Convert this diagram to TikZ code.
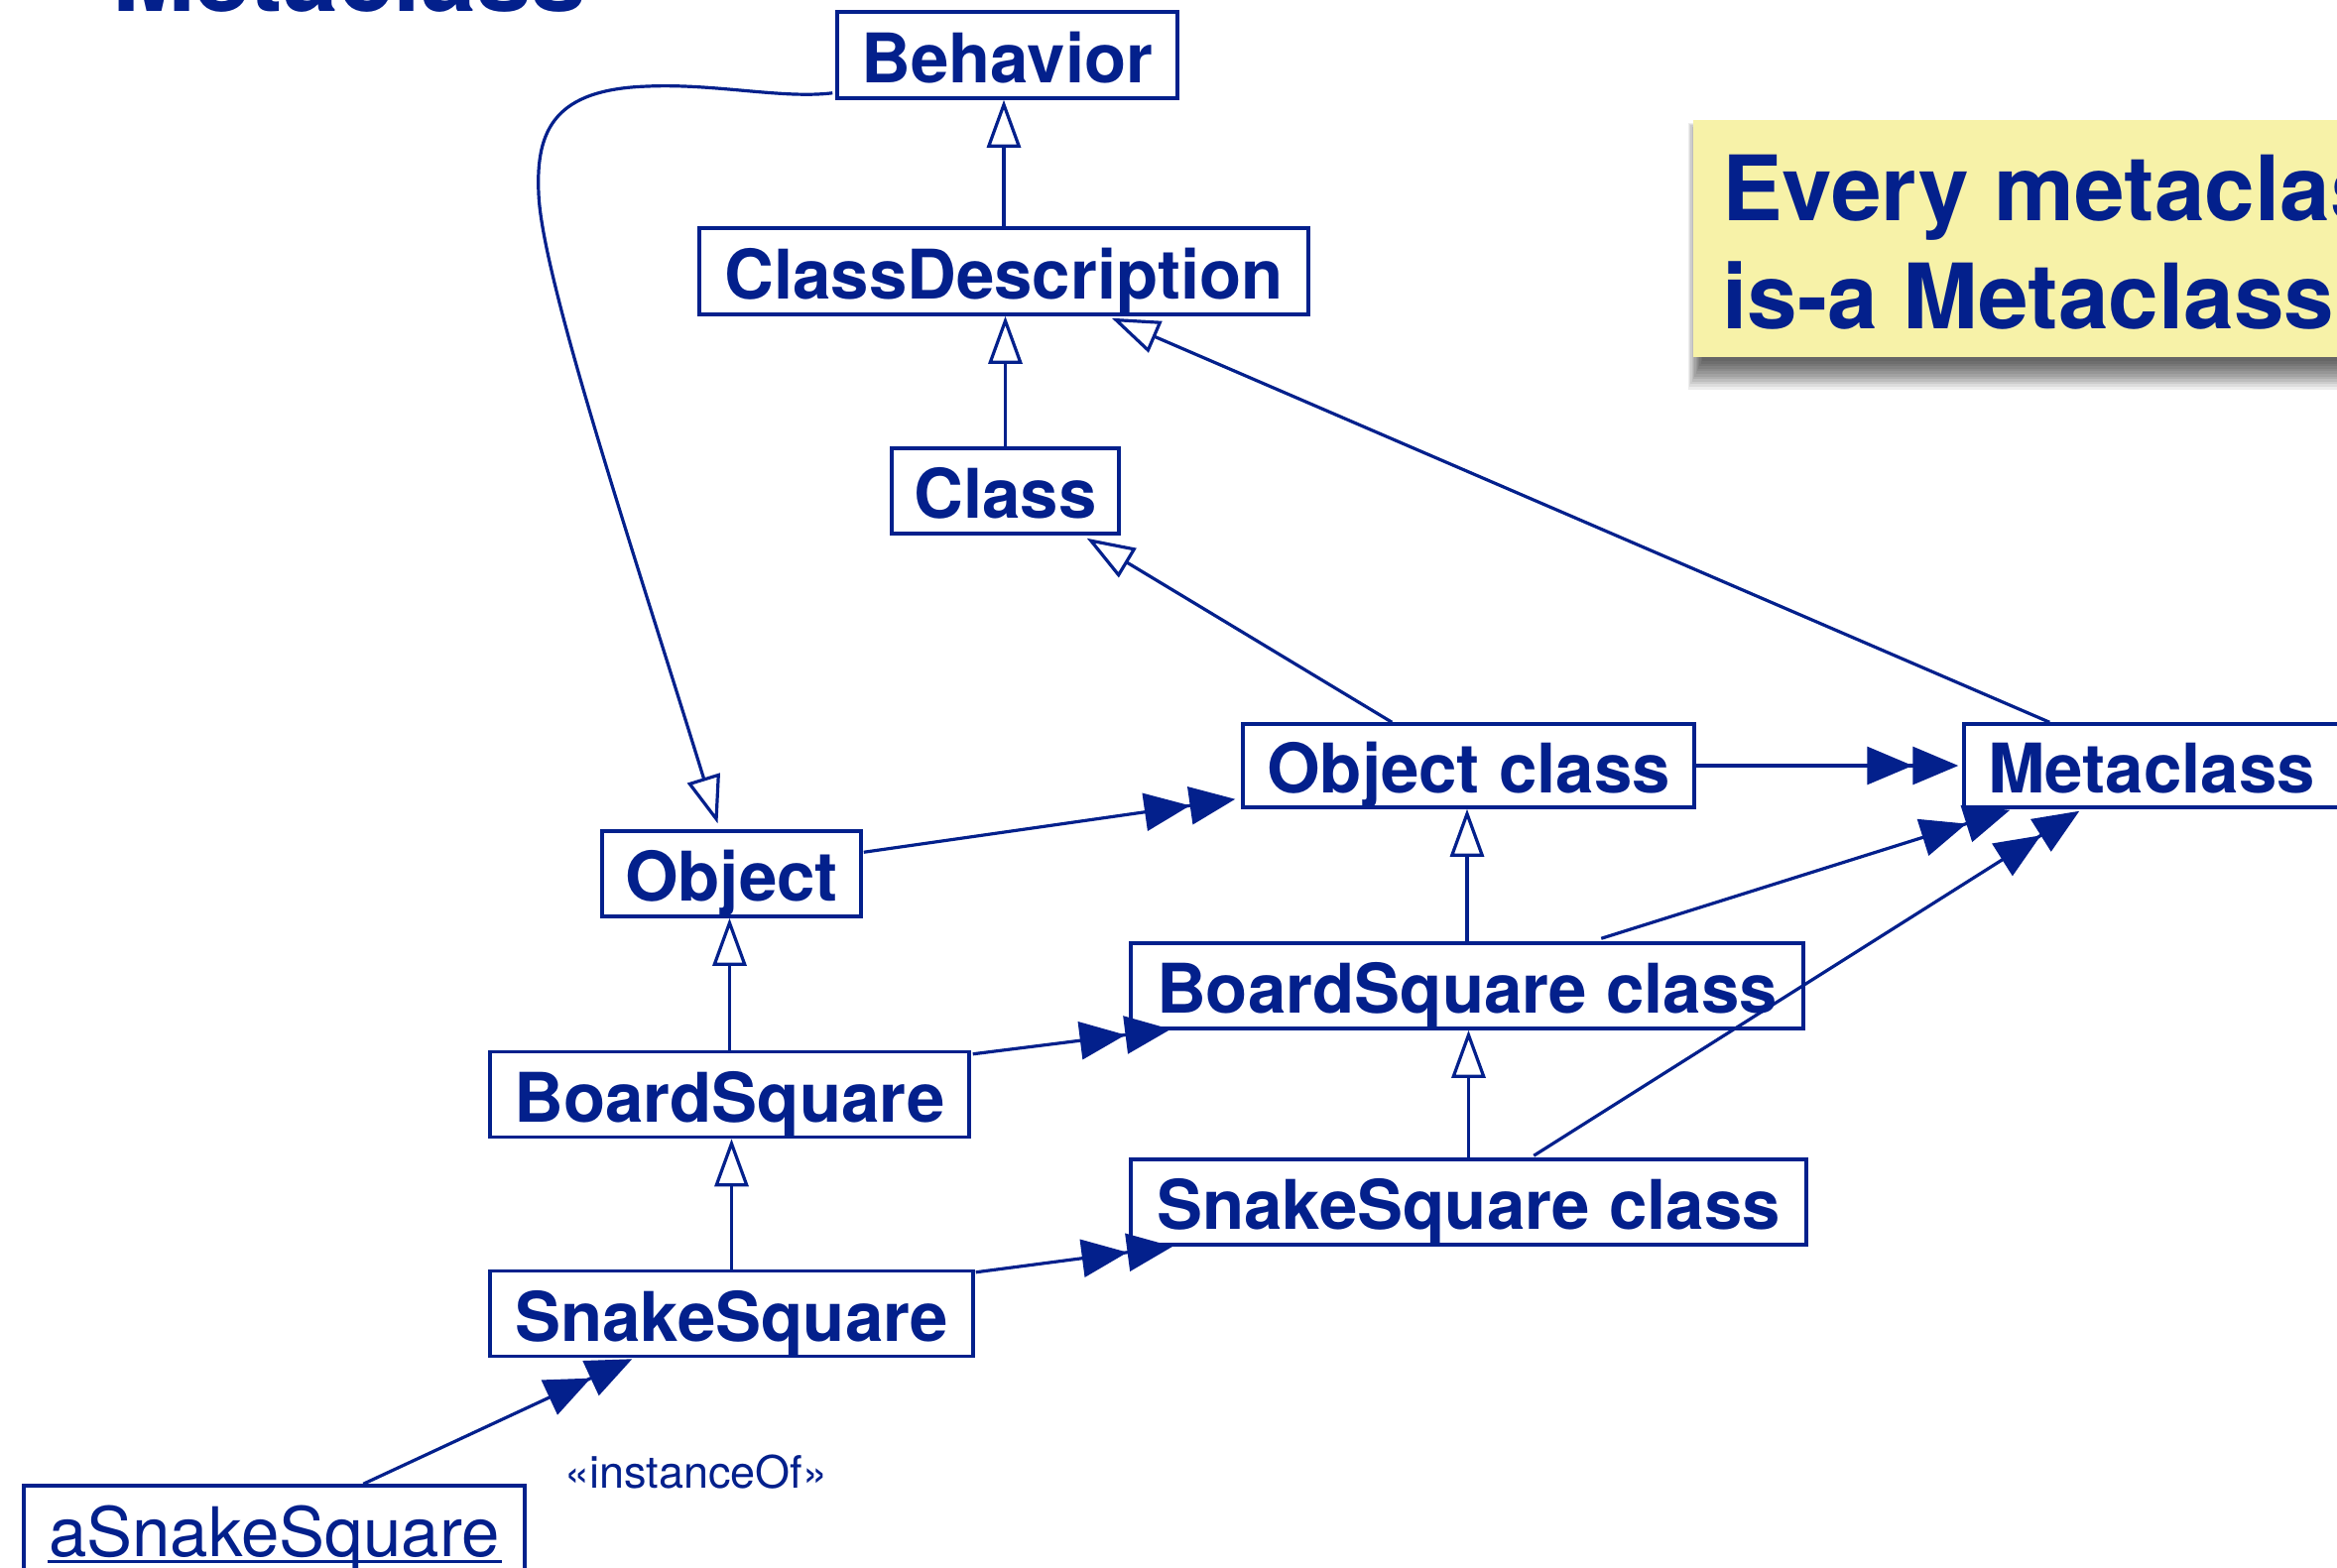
\documentclass[tikz,border=0pt]{standalone}
\usepackage{fontspec}
\setmainfont{TeX Gyre Heros}
\usetikzlibrary{arrows.meta,calc}
\definecolor{ub}{RGB}{3,32,140}
\definecolor{noteyellow}{RGB}{247,242,168}
\begin{document}
\begin{tikzpicture}[x=1pt,y=-1pt,
  box/.style={draw=ub, line width=3.5pt, text=ub, inner sep=0pt, minimum height=86pt,
    text height=55pt, text depth=0pt, font=\fontsize{69}{80}\selectfont\bfseries},
  gen/.style={draw=ub, line width=3.2pt, line join=miter,
    -{Triangle[open, length=48pt, width=34pt, fill=white, line width=3.2pt]}},
  inst/.style={draw=ub, line width=3.2pt,
    -{Triangle[length=46pt,width=38pt]Triangle[length=46pt,width=38pt]}}]
\useasboundingbox (0,0) rectangle (2356,1580);
\clip (0,0) rectangle (2356,1580);
\fill[white] (0,0) rectangle (2356,1580);

% title (cut off)
\node[anchor=base west, inner sep=0pt, text=ub, font=\fontsize{100}{110}\selectfont\bfseries] (title) at (113,11) {Metaclass};

% note with shadow
\foreach \i in {0,...,11} {
  \fill[black, opacity=0.07] (1716-\i*1.3,138-\i*1.3) rectangle (2380,364+\i*2.6);
}
\fill[noteyellow] (1707,121) rectangle (2380,360);
\node[anchor=base west, align=left, inner sep=0pt, text=ub,
  font=\fontsize{91}{109}\selectfont\bfseries] (note) at (1736,331) {Every metaclass\\is-a Metaclass};

% classes
\node[box, minimum width=343pt, minimum height=87pt] (beh) at (1015.5,55.5) {Behavior};
\node[box, minimum width=614pt, minimum height=87pt] (cd) at (1012,273.5) {ClassDescription};
\node[box, minimum width=229pt] (cls) at (1013.5,495) {Class};
\node[box, minimum width=455pt, minimum height=84pt] (oc) at (1480.5,772) {Object class};
\node[box, minimum width=378pt, minimum height=84pt] (meta) at (2169,772) {Metaclass};
\node[box, minimum width=261pt] (obj) at (737.5,881) {Object};
\node[box, minimum width=678pt] (bsc) at (1479,994) {BoardSquare class};
\node[box, minimum width=483pt] (bs) at (735.5,1103.5) {BoardSquare};
\node[box, minimum width=681pt] (ssc) at (1480.5,1212) {SnakeSquare class};
\node[box, minimum width=487pt] (ss) at (737.5,1324.5) {SnakeSquare};
\node[box, minimum width=505pt, minimum height=87pt, font=\fontsize{69}{80}\selectfont\mdseries] (as) at (276.5,1541.5) {aSnakeSquare};
\draw[ub, line width=3pt] ($(as.base)+(-229,5)$) -- ($(as.base)+(229,5)$);

% generalizations
\draw[gen] (cd.north) -- (cd.north |- beh.south);
\draw[gen] (cls.north) -- (cls.north |- cd.south);
\draw[gen] ($(oc.north west)+(152,0)$) -- ($(cls.south east)+(-34,3)$);
\draw[gen] ($(meta.north west)+(88,0)$) -- ($(cd.south east)+(-200,2)$);
\draw[gen] ($(beh.south west)+(-3,-7)$) .. controls (790,100) and (720,84) .. (653,87)
  .. controls (560,90) and (540,130) .. (543,195)
  .. controls (546,280) and (640,560) .. ($(obj.north)+(-14,-6)$);
\draw[gen] (bs.north) -- (bs.north |- obj.south);
\draw[gen] (ss.north) -- (ss.north |- bs.south);
\draw[gen] (bsc.north) -- (bsc.north |- oc.south);
\draw[gen] (ssc.north) -- (ssc.north |- bsc.south);

% instance-of
\draw[inst] ($(obj.north east)+(1,23)$) -- ($(oc.south west)+(-6,-10)$);
\draw[inst] (oc.east) -- ($(meta.west)+(-4,0)$);
\draw[inst] ($(bs.north east)+(2,4)$) -- ($(bsc.south west)+(42,-1)$);
\draw[inst] ($(ss.north east)+(1,3)$) -- ($(ssc.south west)+(44,0)$);
\draw[inst] ($(bsc.north west)+(476,-3)$) -- ($(meta.south west)+(48,1)$);
\draw[inst] ($(ssc.north west)+(408,-2)$) -- ($(meta.south west)+(118,2)$);
\draw[inst] ($(as.north west)+(344,0)$) -- ($(ss.south west)+(145,1)$);
\node[anchor=base, inner sep=0pt, text=ub, font=\fontsize{45}{54}\selectfont] (lbl) at (702,1500) {«instanceOf»};
\end{tikzpicture}
\end{document}
